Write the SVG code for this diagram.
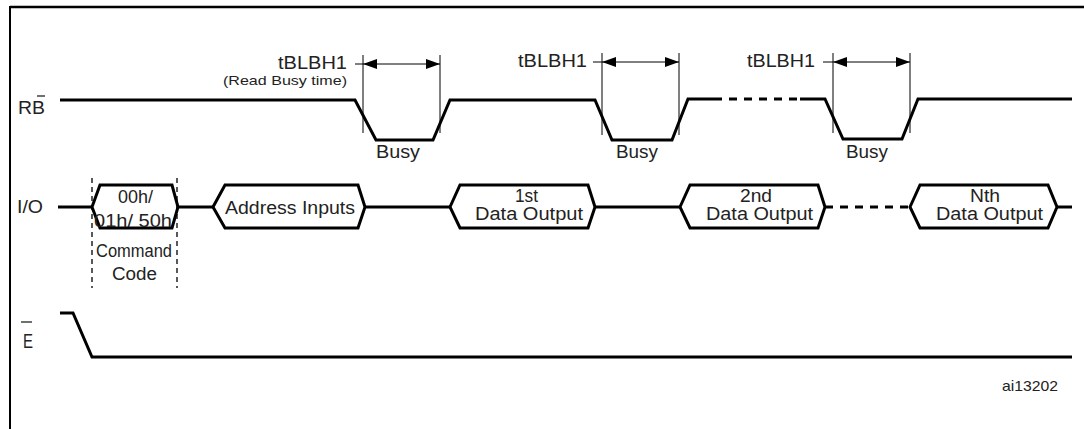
<svg xmlns="http://www.w3.org/2000/svg" width="1084" height="429" viewBox="0 0 1084 429">
<style>
text{font-family:"Liberation Sans",Arial,sans-serif;fill:#222;}
.lbl{font-size:17.5px;}
.sm{font-size:13.5px;}
.wave{fill:none;stroke:#000;stroke-width:3;stroke-linejoin:miter;}
.dash{fill:none;stroke:#000;stroke-width:3;stroke-dasharray:8 7;}
.thin{fill:none;stroke:#000;stroke-width:1;}
.guide{fill:none;stroke:#000;stroke-width:1.3;stroke-dasharray:5 4;}
.hex{fill:#fff;stroke:#000;stroke-width:3;stroke-linejoin:miter;}
.bar{stroke:#222;stroke-width:1.3;}
</style>
<defs>
<marker id="ah" viewBox="0 0 14 10" refX="14" refY="5" markerWidth="14" markerHeight="10" markerUnits="userSpaceOnUse" orient="auto-start-reverse">
<path d="M0,0 L14,5 L0,10 Z" fill="#000"/>
</marker>
</defs>

<g id="frame">
<line x1="10" y1="7" x2="1084" y2="7" stroke="#000" stroke-width="2.5"/>
<line x1="10" y1="6" x2="10" y2="429" stroke="#000" stroke-width="2"/>
</g>

<g id="rb-signal">
<text class="lbl" x="18" y="114" textLength="27" lengthAdjust="spacingAndGlyphs">RB</text>
<line class="bar" x1="37" y1="96" x2="45" y2="96"/>
<polyline class="wave" points="60,100 355,100 376,140 433,140 450,100 595,100 612,140 672,140 688,99 714,99"/>
<line class="dash" x1="714" y1="99" x2="800" y2="99"/>
<polyline class="wave" points="800,99 825,99 843,139 902,139 918,99 1072,99"/>
<text class="lbl" x="376" y="158" textLength="44" lengthAdjust="spacingAndGlyphs">Busy</text>
<text class="lbl" x="616" y="158" textLength="42" lengthAdjust="spacingAndGlyphs">Busy</text>
<text class="lbl" x="846" y="158" textLength="42" lengthAdjust="spacingAndGlyphs">Busy</text>
</g>

<g id="tblbh1-1">
<text class="lbl" x="278" y="69" textLength="69" lengthAdjust="spacingAndGlyphs">tBLBH1</text>
<text class="sm" x="223" y="85" textLength="124" lengthAdjust="spacingAndGlyphs">(Read Busy time)</text>
<line class="thin" x1="363" y1="55" x2="363" y2="133"/>
<line class="thin" x1="440" y1="55" x2="440" y2="133"/>
</g>
<g id="tblbh1-2">
<text class="lbl" x="518" y="67" textLength="69" lengthAdjust="spacingAndGlyphs">tBLBH1</text>
<line class="thin" x1="602" y1="53" x2="602" y2="135"/>
<line class="thin" x1="679" y1="53" x2="679" y2="135"/>
</g>
<g id="tblbh1-3">
<text class="lbl" x="747" y="67" textLength="68" lengthAdjust="spacingAndGlyphs">tBLBH1</text>
<line class="thin" x1="833" y1="53" x2="833" y2="133"/>
<line class="thin" x1="910" y1="53" x2="910" y2="133"/>
</g>

<g id="io-signal">
<text class="lbl" x="17" y="213" textLength="26" lengthAdjust="spacingAndGlyphs">I/O</text>
<line class="wave" x1="58" y1="207" x2="92" y2="207"/>
<line class="wave" x1="178" y1="207" x2="213" y2="207"/>
<line class="wave" x1="365" y1="207" x2="450" y2="207"/>
<line class="wave" x1="595" y1="207" x2="680" y2="207"/>
<line class="dash" x1="825" y1="207" x2="910" y2="207"/>
<line class="wave" x1="1057" y1="207" x2="1072" y2="207"/>
</g>

<g id="command-code">
<polygon class="hex" points="92,207 100,185 172,185 178,207 172,228 100,228"/>
<line class="guide" x1="92" y1="178" x2="92" y2="288"/>
<line class="guide" x1="177" y1="178" x2="177" y2="288"/>
<text class="lbl" x="118" y="203" textLength="35" lengthAdjust="spacingAndGlyphs">00h/</text>
<text class="lbl" x="94" y="227" textLength="78" lengthAdjust="spacingAndGlyphs">01h/ 50h</text>
<text class="lbl" x="96" y="257" textLength="76" lengthAdjust="spacingAndGlyphs">Command</text>
<text class="lbl" x="112" y="280" textLength="45" lengthAdjust="spacingAndGlyphs">Code</text>
</g>

<g id="address-inputs">
<polygon class="hex" points="213,207 225,185 358,185 365,207 358,228 225,228"/>
<text class="lbl" x="225" y="214" textLength="130" lengthAdjust="spacingAndGlyphs">Address Inputs</text>
</g>

<g id="data-1st">
<polygon class="hex" points="450,207 460,185 588,185 595,207 588,228 460,228"/>
<text class="lbl" x="515" y="202" textLength="23" lengthAdjust="spacingAndGlyphs">1st</text>
<text class="lbl" x="475" y="220" textLength="108" lengthAdjust="spacingAndGlyphs">Data Output</text>
</g>

<g id="data-2nd">
<polygon class="hex" points="680,207 690,185 818,185 825,207 818,228 690,228"/>
<text class="lbl" x="740" y="202" textLength="32" lengthAdjust="spacingAndGlyphs">2nd</text>
<text class="lbl" x="706" y="220" textLength="107" lengthAdjust="spacingAndGlyphs">Data Output</text>
</g>

<g id="data-nth">
<polygon class="hex" points="910,207 920,185 1048,185 1057,207 1048,228 920,228"/>
<text class="lbl" x="970" y="202" textLength="30" lengthAdjust="spacingAndGlyphs">Nth</text>
<text class="lbl" x="936" y="220" textLength="107" lengthAdjust="spacingAndGlyphs">Data Output</text>
</g>

<g id="e-signal">
<text x="23" y="348" textLength="10" lengthAdjust="spacingAndGlyphs" style="font-size:20px">E</text>
<line class="bar" x1="21" y1="322" x2="32" y2="322"/>
<polyline class="wave" points="60,313 73,313 92,357 1072,357"/>
</g>

<g id="connectors">
<line class="thin" x1="355" y1="64" x2="363" y2="64"/>
<line class="thin" x1="363" y1="64" x2="440" y2="64" marker-start="url(#ah)" marker-end="url(#ah)"/>
<line class="thin" x1="593" y1="62" x2="602" y2="62"/>
<line class="thin" x1="602" y1="62" x2="679" y2="62" marker-start="url(#ah)" marker-end="url(#ah)"/>
<line class="thin" x1="823" y1="62" x2="833" y2="62"/>
<line class="thin" x1="833" y1="62" x2="910" y2="62" marker-start="url(#ah)" marker-end="url(#ah)"/>
</g>

<g id="ref">
<text x="1002" y="391" textLength="56" lengthAdjust="spacingAndGlyphs" style="font-size:14.5px">ai13202</text>
</g>
</svg>
